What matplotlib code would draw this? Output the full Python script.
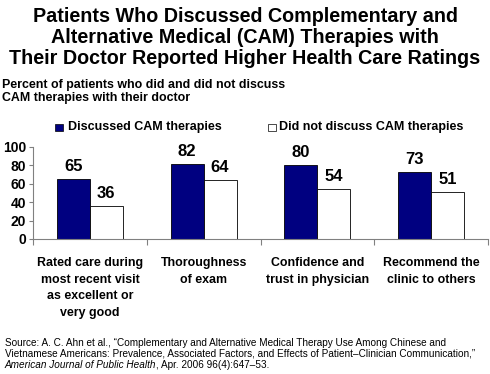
import matplotlib
matplotlib.use("Agg")
import matplotlib.pyplot as plt
import numpy as np
from matplotlib.patches import Rectangle

plt.rcParams['font.family'] = ['Liberation Sans', 'DejaVu Sans']

categories = ["Rated care during\nmost recent visit\nas excellent or\nvery good",
              "Thoroughness\nof exam",
              "Confidence and\ntrust in physician",
              "Recommend the\nclinic to others"]
discussed = [65, 82, 80, 73]
not_discussed = [36, 64, 54, 51]
yticks = [0, 20, 40, 60, 80, 100]

blue = "#000080"

W, H = 490, 374
fig = plt.figure(figsize=(W / 100, H / 100), dpi=100)
fig.patch.set_facecolor("white")

# axes placed in pixel terms
left, right, top, bottom = 33, 488, 147, 239
ax = fig.add_axes([left / W, 1 - bottom / H, (right - left) / W, (bottom - top) / H])

x = np.arange(len(categories))
bw = 0.29
ax.bar(x - bw / 2, discussed, bw, color=blue, edgecolor="black", linewidth=0.6)
ax.bar(x + bw / 2, not_discussed, bw, color="white", edgecolor="black", linewidth=0.6)

for xi, v in zip(x, discussed):
    ax.annotate(str(v), (xi - bw / 2, v), xytext=(0, 9), textcoords="offset points",
                ha="center", va="center", fontsize=12, fontweight="bold")
for xi, v in zip(x, not_discussed):
    ax.annotate(str(v), (xi + bw / 2, v), xytext=(0, 9), textcoords="offset points",
                ha="center", va="center", fontsize=12, fontweight="bold")

ax.set_xlim(-0.5, 3.5)
ax.set_ylim(0, 100)
ax.set_yticks(yticks)
ax.set_yticklabels([str(t) for t in yticks], fontsize=10, fontweight="bold")
ax.set_xticks(np.arange(-0.5, 4, 1))
ax.set_xticklabels([])
ax.tick_params(axis="x", length=4, color="#808080", width=0.8)
ax.tick_params(axis="y", length=3, color="#808080", width=0.8, pad=2)
for s in ["top", "right"]:
    ax.spines[s].set_visible(False)
for s in ["left", "bottom"]:
    ax.spines[s].set_color("#808080")
    ax.spines[s].set_linewidth(0.8)

for xi, lab in zip(x, categories):
    ax.text(xi, -0.2, lab, transform=ax.get_xaxis_transform(), ha="center", va="top",
            fontsize=8.9, fontweight="bold", linespacing=1.5)

# legend drawn by hand (two separate entries)
fig.patches.append(Rectangle((55 / W, 1 - 131 / H), 8 / W, 7 / H, transform=fig.transFigure,
                             facecolor=blue, edgecolor="black", linewidth=0.5))
fig.text(68 / W, 1 - 127 / H, "Discussed CAM therapies", fontsize=9, fontweight="bold", va="center")
fig.patches.append(Rectangle((268 / W, 1 - 131 / H), 8 / W, 7 / H, transform=fig.transFigure,
                             facecolor="white", edgecolor="black", linewidth=0.5))
fig.text(279 / W, 1 - 127 / H, "Did not discuss CAM therapies", fontsize=9, fontweight="bold", va="center")

fig.text(0.5, 1 - 37.5 / H,
         "Patients Who Discussed Complementary and\nAlternative Medical (CAM) Therapies with\nTheir Doctor Reported Higher Health Care Ratings",
         ha="center", va="center", fontsize=14.2, fontweight="bold", linespacing=1.12)
fig.text(2 / W, 1 - 91.5 / H, "Percent of patients who did and did not discuss\nCAM therapies with their doctor",
         ha="left", va="center", fontsize=8.9, fontweight="bold", linespacing=1.13)

src_fs = 7.2
fig.text(5 / W, 1 - 343 / H,
         "Source: A. C. Ahn et al., \u201cComplementary and Alternative Medical Therapy Use Among Chinese and",
         ha="left", va="center", fontsize=src_fs)
fig.text(5 / W, 1 - 354 / H,
         "Vietnamese Americans: Prevalence, Associated Factors, and Effects of Patient\u2013Clinician Communication,\u201d",
         ha="left", va="center", fontsize=src_fs)
jt = fig.text(5 / W, 1 - 365 / H, "American Journal of Public Health", ha="left", va="center",
              fontsize=src_fs, style="italic")
# rest of the citation continues right after the italic journal name
fig.text(0, 0, ", Apr. 2006 96(4):647\u201353.", fontsize=src_fs, ha="left", va="center")
fig.canvas.draw()
bb = jt.get_window_extent()
fig.texts[-1].set_position(((bb.x1 - 1) / W, 1 - 365 / H))

fig.savefig("out.png", dpi=100)
